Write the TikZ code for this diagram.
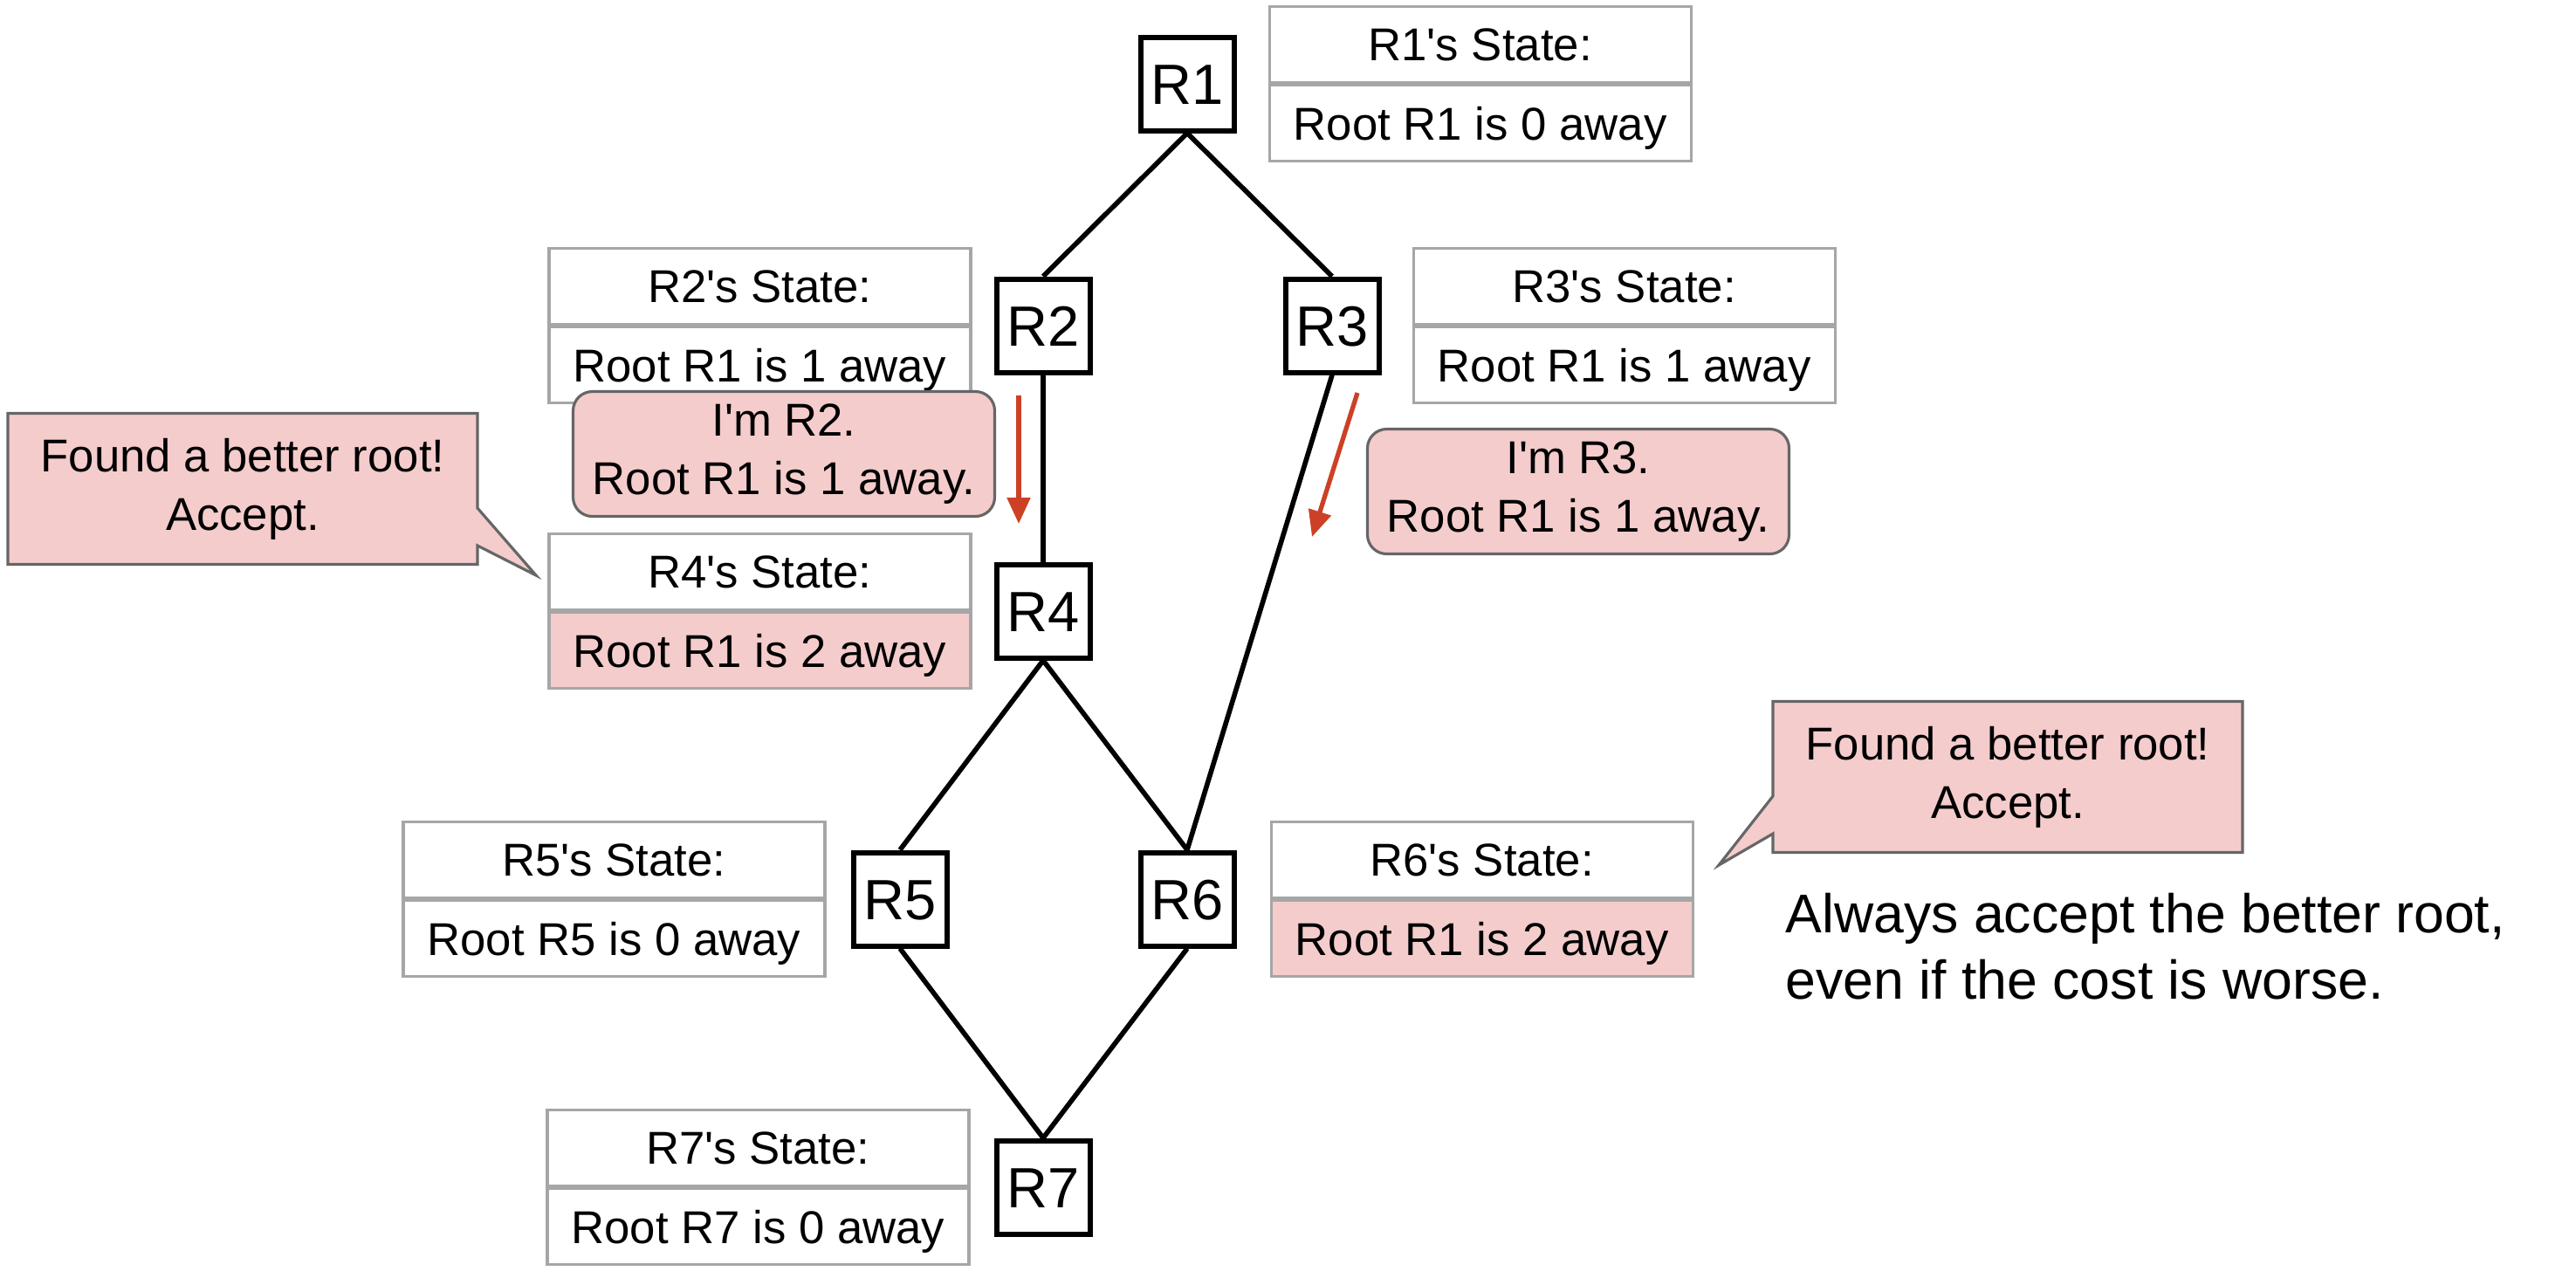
\documentclass[tikz,border=0pt]{standalone}
\usepackage{fontspec}
\setmainfont{Liberation Sans}
\usetikzlibrary{positioning, arrows.meta, shapes.callouts}

\definecolor{notepink}{HTML}{F4CCCC}
\definecolor{noteline}{HTML}{666666}
\definecolor{tableline}{HTML}{A6A6A6}
\definecolor{msgred}{HTML}{CC4125}

\begin{document}
\begin{tikzpicture}[>=Stealth,
    router/.style={draw, line width=1.7pt, minimum size=1.07cm, inner sep=0pt, font=\fontsize{18.5}{22}\selectfont, text height=17pt, text depth=3.7pt},
    statecell/.style={draw=tableline, line width=0.9pt, minimum width=4.83cm, minimum height=0.87cm, inner sep=0pt, font=\fontsize{15}{18}\selectfont, text height=13.8pt, text depth=3pt},
    msg/.style={draw=noteline, fill=notepink, line width=0.9pt, rounded corners=0.22cm, minimum width=4.83cm, minimum height=1.43cm, inner sep=0pt, align=center, font=\fontsize{15}{19}\selectfont},
    note/.style={rectangle callout, draw=noteline, fill=notepink, line width=0.9pt, minimum width=5.38cm, minimum height=1.73cm, inner sep=0pt, align=center, font=\fontsize{15}{19}\selectfont, callout pointer width=0.43cm},
    link/.style={line width=1.6pt},
    push/.style={-{Triangle[length=0.3cm, width=0.26cm]}, draw=msgred, line width=1.5pt}]
  \useasboundingbox (0,0) rectangle (29.51,-14.71);

  % routers
  \node[router] (R1) at (13.60,-0.96) {R1};
  \node[router] (R2) at (11.95,-3.73) {R2};
  \node[router] (R3) at (15.26,-3.73) {R3};
  \node[router] (R4) at (11.95,-7.00) {R4};
  \node[router] (R5) at (10.31,-10.30) {R5};
  \node[router] (R6) at (13.60,-10.30) {R6};
  \node[router] (R7) at (11.95,-13.60) {R7};

  \draw[link] (R1.south) -- (R2.north);
  \draw[link] (R1.south) -- (R3.north);
  \draw[link] (R2) -- (R4);
  \draw[link] (R3.south) -- (R6.north);
  \draw[link] (R4.south) -- (R5.north);
  \draw[link] (R4.south) -- (R6.north);
  \draw[link] (R5.south) -- (R7.north);
  \draw[link] (R6.south) -- (R7.north);

  % state tables
  \node[statecell, above right=0cm and 0.36cm of R1.east] (R1h) {R1\textquotesingle s State:};
  \node[statecell, below=0cm of R1h] (R1b) {Root R1 is 0 away};
  \node[statecell, above left=0cm and 0.25cm of R2.west] (R2h) {R2\textquotesingle s State:};
  \node[statecell, below=0cm of R2h] (R2b) {Root R1 is 1 away};
  \node[statecell, above right=0cm and 0.35cm of R3.east] (R3h) {R3\textquotesingle s State:};
  \node[statecell, below=0cm of R3h] (R3b) {Root R1 is 1 away};
  \node[statecell, above left=0cm and 0.25cm of R4.west] (R4h) {R4\textquotesingle s State:};
  \node[statecell, fill=notepink, below=0cm of R4h] (R4b) {Root R1 is 2 away};
  \node[statecell, above left=0cm and 0.28cm of R5.west] (R5h) {R5\textquotesingle s State:};
  \node[statecell, below=0cm of R5h] (R5b) {Root R5 is 0 away};
  \node[statecell, above right=0cm and 0.38cm of R6.east] (R6h) {R6\textquotesingle s State:};
  \node[statecell, fill=notepink, below=0cm of R6h] (R6b) {Root R1 is 2 away};
  \node[statecell, above left=0cm and 0.27cm of R7.west] (R7h) {R7\textquotesingle s State:};
  \node[statecell, below=0cm of R7h] (R7b) {Root R7 is 0 away};

  % messages sent downwards
  \node[msg] (m2) at (8.98,-5.20) {I\textquotesingle m R2.\\Root R1 is 1 away.};
  \node[msg] (m3) at (18.08,-5.63) {I\textquotesingle m R3.\\Root R1 is 1 away.};
  \coordinate (a2s) at (11.67,-4.53);
  \coordinate (a2e) at (11.67,-6.00);
  \coordinate (a3s) at (15.55,-4.50);
  \coordinate (a3e) at (15.03,-6.15);
  \draw[push] (a2s) -- (a2e);
  \draw[push] (a3s) -- (a3e);

  % callouts
  \coordinate (t4) at (6.14,-6.59);
  \coordinate (t6) at (19.69,-9.91);
  \node[note, callout absolute pointer={(t4)}] (n4) at (2.78,-5.60) {Found a better root!\\Accept.};
  \node[note, callout absolute pointer={(t6)}] (n6) at (23.00,-8.90) {Found a better root!\\Accept.};

  \node[anchor=north west, inner sep=0pt, align=left, font=\fontsize{17.8}{21.8}\selectfont] (rule) at (20.45,-10.22) {Always accept the better root,\\even if the cost is worse.};
\end{tikzpicture}
\end{document}
